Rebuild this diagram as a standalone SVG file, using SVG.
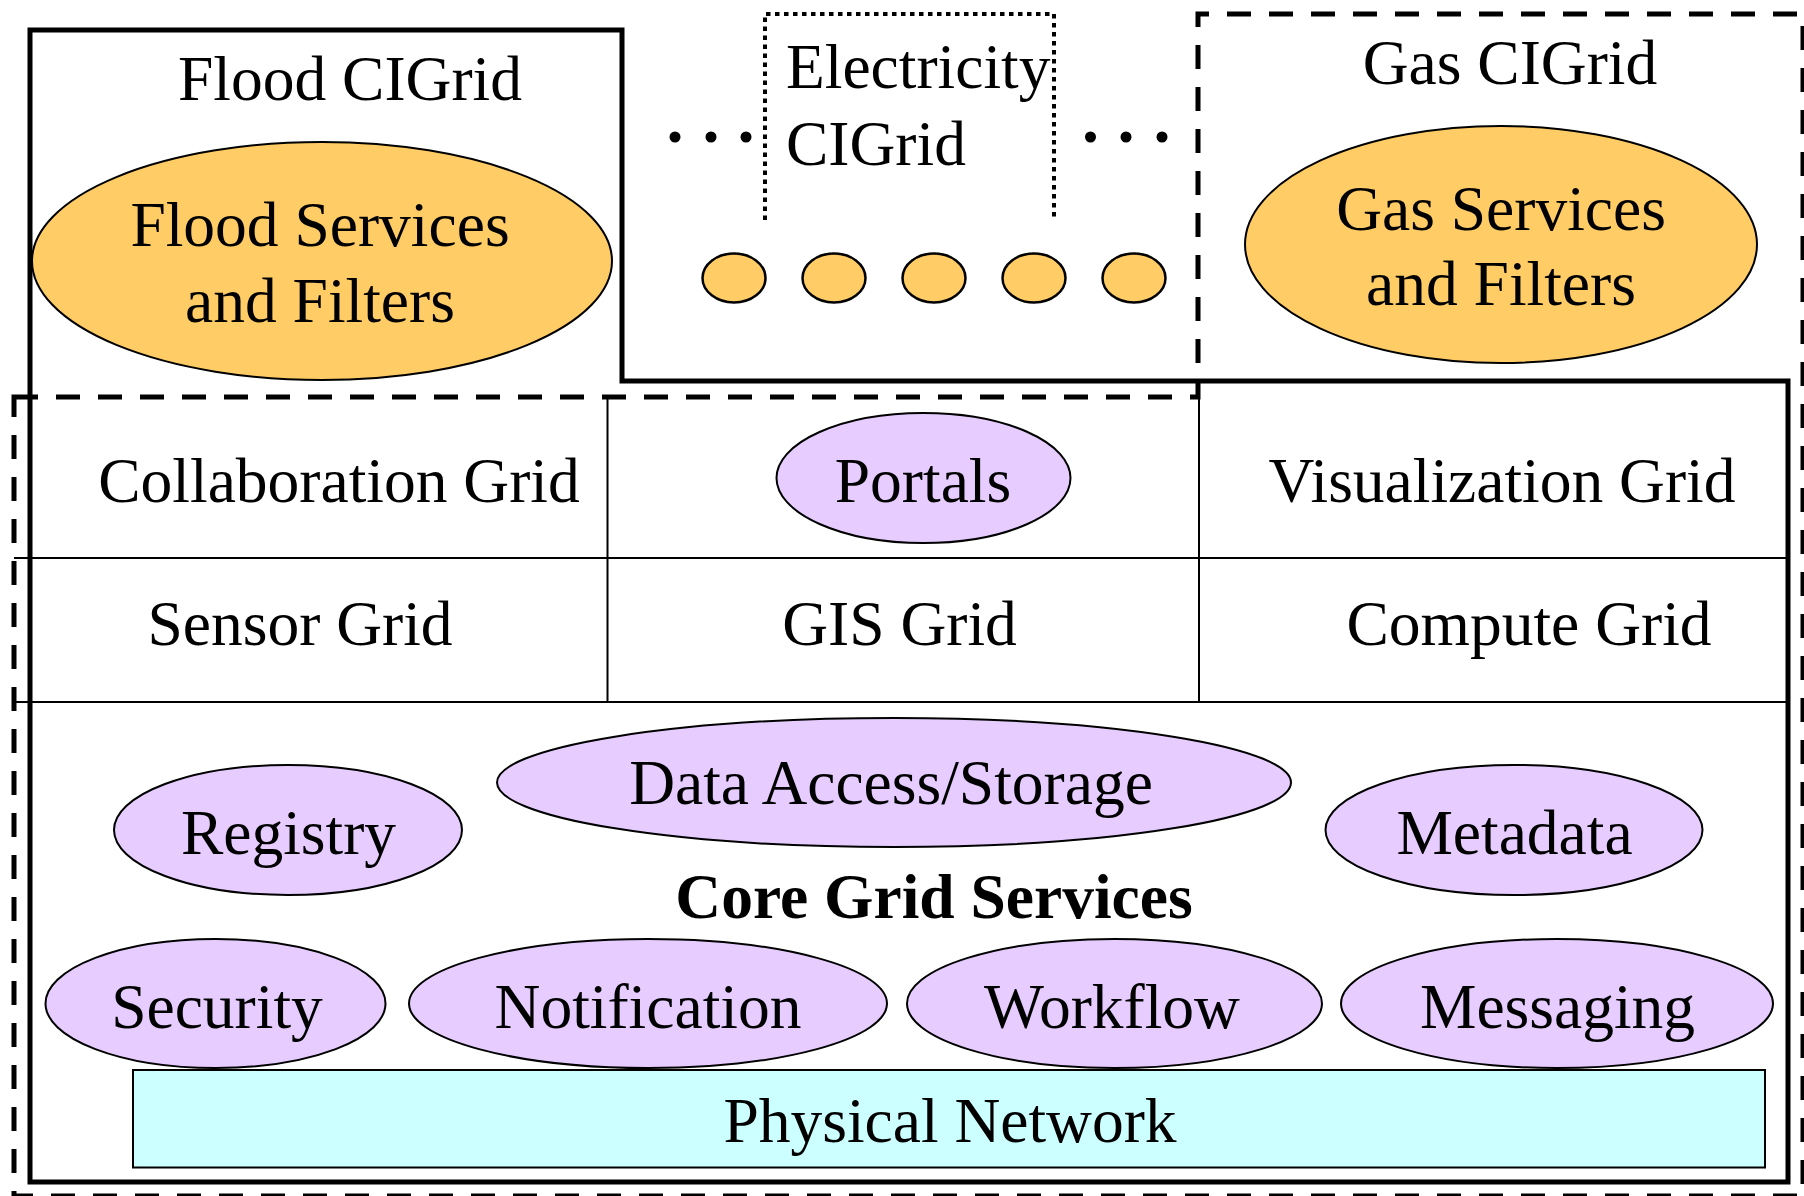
<svg xmlns="http://www.w3.org/2000/svg" width="1804" height="1196" viewBox="0 0 1804 1196">
  <style>
    .t { font-family: "Liberation Serif", "Times New Roman", serif; font-size: 63.5px; fill: #000; }
    .mid { text-anchor: middle; }
    .bold { font-weight: bold; }
    .orange { fill: #FFCC66; stroke: #000; stroke-width: 2; }
    .small { fill: #FFCC66; stroke: #000; stroke-width: 2.5; }
    .lilac { fill: #E6CCFF; stroke: #000; stroke-width: 2; }
    .net { fill: #CCFFFF; stroke: #000; stroke-width: 2; }
    .solid { fill: none; stroke: #000; stroke-width: 5; }
    .dashed { fill: none; stroke: #000; stroke-width: 5; stroke-dasharray: 24 18; }
    .dotted { fill: none; stroke: #000; stroke-width: 4; stroke-dasharray: 4.5 4.5; }
    .thin { fill: none; stroke: #000; stroke-width: 2; }
  </style>

  <rect width="1804" height="1196" fill="#fff"/>

  <!-- outer frames -->
  <g id="frames">
    <path class="dashed" d="M14,397 H1198 V14 H1803 V1196 H14 Z"/>
    <path class="solid" d="M30,30 H622 V381 H1788 V1182 H30 Z"/>
    <path class="dotted" d="M765,220 V14 H1054 V220"/>
  </g>

  <!-- cell dividers of the middle layer -->
  <g id="connectors">
    <line class="thin" x1="14" y1="558" x2="1788" y2="558"/>
    <line class="thin" x1="14" y1="702" x2="1788" y2="702"/>
    <line class="thin" x1="607.5" y1="397" x2="607.5" y2="702"/>
    <line class="thin" x1="1199" y1="397" x2="1199" y2="702"/>
  </g>

  <!-- Flood CIGrid -->
  <g id="flood-cigrid">
    <text class="t mid" x="350" y="100">Flood CIGrid</text>
  </g>
  <g id="flood-services">
    <ellipse class="orange" cx="322" cy="261" rx="290" ry="119"/>
    <text class="t mid" x="320" y="246">Flood Services</text>
    <text class="t mid" x="320" y="322">and Filters</text>
  </g>

  <!-- Electricity CIGrid -->
  <g id="electricity-cigrid">
    <text class="t" x="786" y="88">Electricity</text>
    <text class="t" x="786" y="165">CIGrid</text>
  </g>
  <g id="ellipsis-left">
    <circle cx="675" cy="137" r="5.5"/>
    <circle cx="711" cy="137" r="5.5"/>
    <circle cx="746" cy="137" r="5.5"/>
  </g>
  <g id="ellipsis-right">
    <circle cx="1090.5" cy="137" r="5.5"/>
    <circle cx="1126" cy="137" r="5.5"/>
    <circle cx="1162" cy="137" r="5.5"/>
  </g>
  <g id="electricity-services">
    <ellipse class="small" cx="734" cy="278" rx="31.5" ry="24.5"/>
    <ellipse class="small" cx="834" cy="278" rx="31.5" ry="24.5"/>
    <ellipse class="small" cx="934" cy="278" rx="31.5" ry="24.5"/>
    <ellipse class="small" cx="1034" cy="278" rx="31.5" ry="24.5"/>
    <ellipse class="small" cx="1134" cy="278" rx="31.5" ry="24.5"/>
  </g>

  <!-- Gas CIGrid -->
  <g id="gas-cigrid">
    <text class="t mid" x="1510" y="84">Gas CIGrid</text>
  </g>
  <g id="gas-services">
    <ellipse class="orange" cx="1501" cy="244.5" rx="256" ry="118.5"/>
    <text class="t mid" x="1501" y="230">Gas Services</text>
    <text class="t mid" x="1501" y="305">and Filters</text>
  </g>

  <!-- middle layer grids -->
  <g id="collaboration-grid">
    <text class="t mid" x="339" y="502">Collaboration Grid</text>
  </g>
  <g id="portals">
    <ellipse class="lilac" cx="923.5" cy="478" rx="147" ry="65"/>
    <text class="t mid" x="923" y="502">Portals</text>
  </g>
  <g id="visualization-grid">
    <text class="t mid" x="1502" y="502">Visualization Grid</text>
  </g>
  <g id="sensor-grid">
    <text class="t mid" x="300" y="645">Sensor Grid</text>
  </g>
  <g id="gis-grid">
    <text class="t mid" x="899.5" y="645">GIS Grid</text>
  </g>
  <g id="compute-grid">
    <text class="t mid" x="1529" y="645">Compute Grid</text>
  </g>

  <!-- core grid services -->
  <g id="data-access">
    <ellipse class="lilac" cx="894" cy="782.5" rx="397" ry="64.5"/>
    <text class="t mid" x="891" y="804">Data Access/Storage</text>
  </g>
  <g id="registry">
    <ellipse class="lilac" cx="288" cy="830" rx="174" ry="65"/>
    <text class="t mid" x="288.5" y="854">Registry</text>
  </g>
  <g id="metadata">
    <ellipse class="lilac" cx="1514" cy="830" rx="188.5" ry="65"/>
    <text class="t mid" x="1514.5" y="854">Metadata</text>
  </g>
  <g id="core-grid-services">
    <text class="t mid bold" x="934" y="918">Core Grid Services</text>
  </g>
  <g id="security">
    <ellipse class="lilac" cx="215.5" cy="1003.5" rx="170" ry="64.5"/>
    <text class="t mid" x="217" y="1028">Security</text>
  </g>
  <g id="notification">
    <ellipse class="lilac" cx="648" cy="1003.5" rx="239" ry="64.5"/>
    <text class="t mid" x="648" y="1028">Notification</text>
  </g>
  <g id="workflow">
    <ellipse class="lilac" cx="1114.5" cy="1003.5" rx="207.5" ry="64.5"/>
    <text class="t mid" x="1112" y="1028">Workflow</text>
  </g>
  <g id="messaging">
    <ellipse class="lilac" cx="1557" cy="1003.5" rx="216" ry="64.5"/>
    <text class="t mid" x="1557.5" y="1028">Messaging</text>
  </g>
  <g id="physical-network">
    <rect class="net" x="133" y="1070" width="1632" height="97.5"/>
    <text class="t mid" x="950" y="1142">Physical Network</text>
  </g>
</svg>
